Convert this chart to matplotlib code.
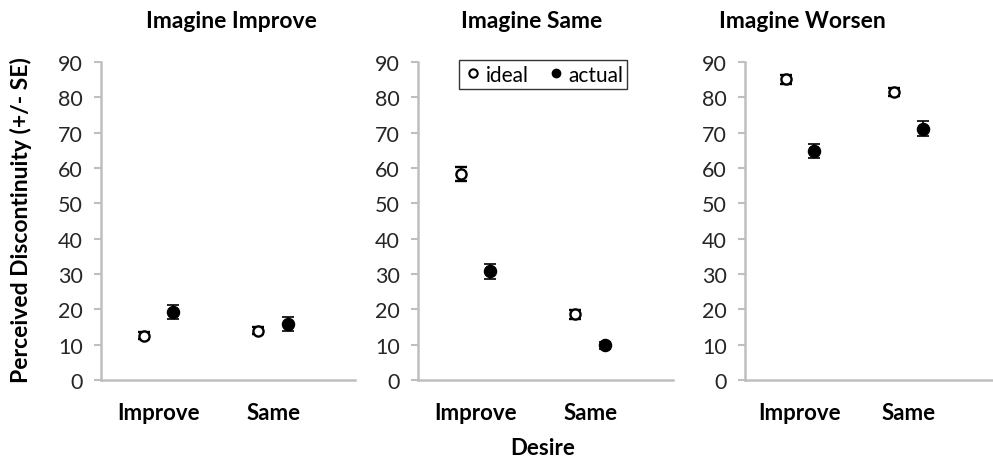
import matplotlib
matplotlib.use("Agg")
import matplotlib.pyplot as plt
from matplotlib.lines import Line2D

plt.rcParams['font.family'] = ['Lato', 'DejaVu Sans']

# ---- data ----
categories = ["Improve", "Same"]
panel_titles = ["Imagine Improve", "Imagine Same", "Imagine Worsen"]
ideal_means = [[12.5, 13.9], [58.4, 18.6], [85.1, 81.5]]
ideal_se = [[1.0, 1.0], [2.0, 1.3], [1.2, 1.2]]
actual_means = [[19.2, 15.9], [30.8, 9.8], [64.7, 71.1]]
actual_se = [[2.0, 2.0], [2.1, 1.0], [2.0, 2.1]]
yticks = [0, 10, 20, 30, 40, 50, 60, 70, 80, 90]
legend_labels = ["ideal", "actual"]
x_label = "Desire"
y_label = "Perceived Discontinuity (+/- SE)"

W, H = 993, 460
fig = plt.figure(figsize=(W / 100, H / 100), dpi=100)

# axes boxes in pixels: (left, right)
boxes = [(101, 355), (418, 673), (745, 993)]
xlims = [(-0.5, 1.71), (-0.5, 1.72), (-0.507, 1.78)]
title_x = [231, 532, 802]
bottom_px, top_px = 381, 63
offset = 0.13
grey = "#bfbfbf"
txt = "#262626"

for i in range(3):
    l, r = boxes[i]
    ax = fig.add_axes([l / W, 1 - bottom_px / H, (r - l) / W, (bottom_px - top_px) / H])
    xs = list(range(len(categories)))
    ax.errorbar([x - offset for x in xs], ideal_means[i], yerr=ideal_se[i], fmt='o',
                mfc='white', mec='black', mew=1.7, ms=7.3, ecolor='black', elinewidth=1.2,
                capsize=4, capthick=1.2, zorder=3)
    ax.errorbar([x + offset for x in xs], actual_means[i], yerr=actual_se[i], fmt='o',
                mfc='black', mec='black', ms=8.7, ecolor='black', elinewidth=1.2,
                capsize=4, capthick=1.2, zorder=3)
    ax.set_xlim(*xlims[i])
    ax.set_ylim(0, 90)
    ax.set_yticks(yticks)
    ax.set_xticks(xs)
    ax.set_xticklabels(categories, fontsize=16, fontweight='bold', color='black')
    ax.tick_params(axis='x', length=0, pad=16)
    ax.tick_params(axis='y', length=5, width=1.5, color=grey, labelsize=15.5, labelcolor=txt, pad=8)
    for s in ['top', 'right']:
        ax.spines[s].set_visible(False)
    for s in ['left', 'bottom']:
        ax.spines[s].set_color(grey)
        ax.spines[s].set_linewidth(1.8)
    fig.text(title_x[i] / W, 1 - 22 / H, panel_titles[i], ha='center', va='center',
             fontsize=16.5, fontweight='bold', color='black')
    if i == 1:
        handles = [Line2D([], [], marker='o', ls='none', mfc='white', mec='black', mew=1.5, ms=6),
                   Line2D([], [], marker='o', ls='none', mfc='black', mec='black', ms=6)]
        leg = ax.legend(handles, legend_labels, loc='upper center', bbox_to_anchor=(0.49, 1.005),
                        ncol=2, frameon=True, fancybox=False, fontsize=15,
                        handletextpad=0.1, columnspacing=0.8, handlelength=1.0,
                        borderpad=0.2, borderaxespad=0.0)
        leg.get_frame().set_edgecolor('black')
        leg.get_frame().set_linewidth(1.0)

fig.text(543 / W, 1 - 449 / H, x_label, ha='center', va='center', fontsize=16,
         fontweight='bold', color='black')
fig.text(21 / W, 1 - 220 / H, y_label, ha='center', va='center', rotation=90,
         fontsize=16.5, fontweight='bold', color='black')

fig.savefig("out.png", dpi=100)
